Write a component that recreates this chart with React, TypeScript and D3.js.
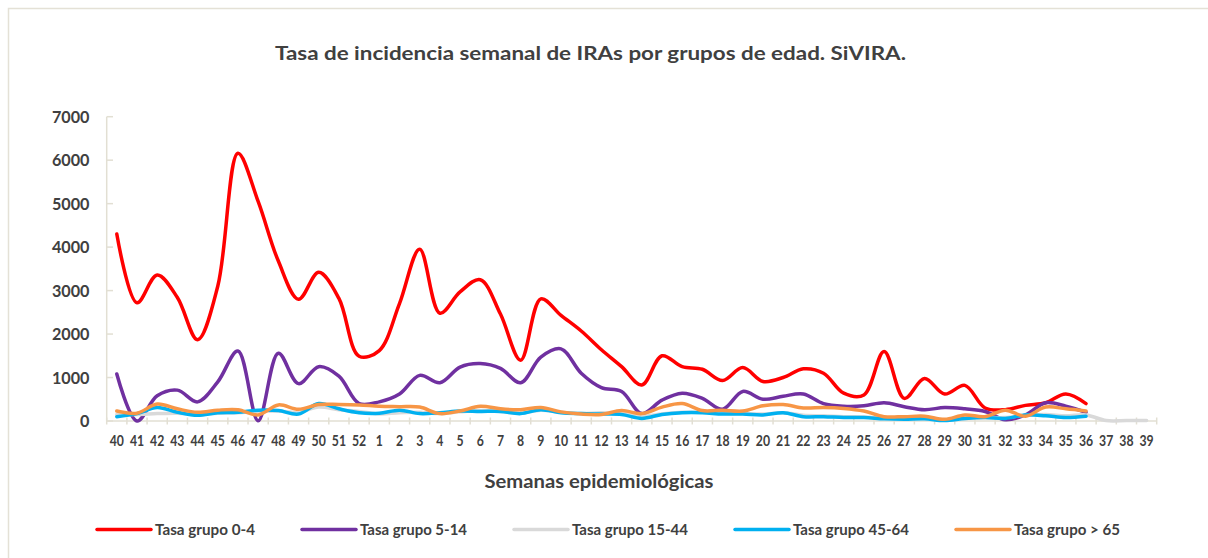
import React from "react";
import * as d3 from "d3";

const width = 1208;
const height = 558;

const weeks = [
  "40", "41", "42", "43", "44", "45", "46", "47", "48", "49", "50", "51", "52",
  "1", "2", "3", "4", "5", "6", "7", "8", "9", "10", "11", "12", "13", "14",
  "15", "16", "17", "18", "19", "20", "21", "22", "23", "24", "25", "26", "27",
  "28", "29", "30", "31", "32", "33", "34", "35", "36", "37", "38", "39"
];

const yTicks = [0, 1000, 2000, 3000, 4000, 5000, 6000, 7000];

// tasas por 100.000 hab.
const tasa0a4 = [
  4300, 2720, 3360, 2840, 1870, 3100, 6160, 5050, 3680, 2800, 3420, 2820, 1490,
  1620, 2700, 3950, 2480, 2970, 3250, 2460, 1400, 2810, 2430, 2070, 1640, 1250, 830,
  1500, 1250, 1190, 930, 1230, 910, 1000, 1200, 1100, 640, 600, 1600, 520,
  980, 620, 820, 300, 260, 360, 420, 620, 400, null, null, null
];
const tasa5a14 = [
  1080, 0, 580, 710, 440, 900, 1610, 5, 1560, 860, 1250, 1030, 400,
  440, 620, 1050, 880, 1240, 1320, 1210, 880, 1470, 1660, 1100, 770, 680, 170,
  480, 640, 520, 270, 680, 500, 570, 620, 400, 340, 350, 420, 330,
  260, 310, 280, 220, 30, 140, 420, 340, 200, null, null, null
];
const tasa15a44 = [
  150, 150, 170, 180, 160, 180, 190, 220, 230, 200, 320, 260, 220,
  160, 190, 200, 170, 210, 240, 220, 180, 250, 200, 170, 190, 160, 110,
  160, 200, 200, 180, 170, 160, 190, 130, 120, 100, 90, 70, 60,
  60, 30, 60, 80, 80, 130, 150, 120, 140, 10, 10, 10
];
const tasa45a64 = [
  100, 170, 310, 200, 130, 190, 200, 250, 240, 160, 400, 280, 190,
  180, 250, 170, 190, 230, 220, 220, 170, 260, 190, 170, 160, 150, 60,
  150, 190, 190, 160, 160, 140, 190, 100, 100, 80, 80, 50, 40,
  50, 10, 60, 80, 60, 140, 120, 80, 110, null, null, null
];
const tasa65 = [
  230, 180, 390, 280, 200, 250, 260, 140, 370, 270, 380, 380, 370,
  340, 330, 320, 170, 230, 340, 280, 260, 310, 210, 160, 150, 240, 170,
  320, 400, 240, 250, 230, 350, 380, 300, 310, 290, 230, 100, 100,
  110, 40, 140, 100, 250, 110, 320, 280, 230, null, null, null
];

const seriesNames = [
  "Tasa grupo 0-4",
  "Tasa grupo 5-14",
  "Tasa grupo 15-44",
  "Tasa grupo 45-64",
  "Tasa grupo > 65"
];
const seriesValues = [tasa0a4, tasa5a14, tasa15a44, tasa45a64, tasa65];
const colors = ["#ff0000", "#7030a0", "#d9d9d9", "#00b0f0", "#f79646"];
// ancho de cada texto de leyenda
const legendTextW = [100, 107, 116, 116, 106];

const font = "Lato, 'Open Sans', sans-serif";
const textColor = "#404040";
const axisColor = "#e2dfd3";

export default function App() {
  const x = d3.scaleBand<string>().domain(weeks).range([106.7, 1156.7]);
  const cx = (w: string) => (x(w) as number) + x.bandwidth() / 2;
  const y = d3.scaleLinear().domain([0, 7000]).range([421, 116.7]);

  const line = d3
    .line<number | null>()
    .defined(d => d != null)
    .x((_, i) => cx(weeks[i]))
    .y(d => y(d as number))
    .curve(d3.curveCatmullRom.alpha(0.5));

  // posiciones de leyenda
  let lx = 97;
  const legend = seriesNames.map((name, i) => {
    const item = { name, color: colors[i], x: lx, w: legendTextW[i] };
    lx += 54 + 4 + legendTextW[i] + 47;
    return item;
  });

  const boundaries = weeks.map(w => x(w) as number).concat([x.range()[1]]);

  return (
    <div style={{ position: "absolute", left: 0, top: 0 }}>
      <svg width={width} height={height} style={{ display: "block", background: "#fff" }}>
        <rect x={8.5} y={8.5} width={1210} height={560} fill="#fff" stroke="#e4e1d6" strokeWidth={1.5} />

        <text
          x={590.5}
          y={60}
          textAnchor="middle"
          fontFamily={font}
          fontWeight="bold"
          fontSize={19.5}
          fill={textColor}
          textLength={631}
          lengthAdjust="spacingAndGlyphs"
        >
          Tasa de incidencia semanal de IRAs por grupos de edad. SiVIRA.
        </text>

        {/* eje Y */}
        <line x1={106.7} x2={106.7} y1={y(7000)} y2={y(0)} stroke={axisColor} strokeWidth={1.5} />
        {yTicks.map(t => (
          <g key={t}>
            <line x1={106.7} x2={113} y1={y(t)} y2={y(t)} stroke={axisColor} strokeWidth={1.5} />
            <text
              x={89.5}
              y={y(t) + 6.3}
              textAnchor="end"
              fontFamily={font}
              fontWeight="bold"
              fontSize={17.5}
              fill={textColor}
              textLength={String(t).length * 9.4}
              lengthAdjust="spacingAndGlyphs"
            >
              {t}
            </text>
          </g>
        ))}

        {/* eje X */}
        <line x1={x.range()[0]} x2={x.range()[1]} y1={y(0)} y2={y(0)} stroke={axisColor} strokeWidth={1.5} />
        {boundaries.map((b, i) => (
          <line key={i} x1={b} x2={b} y1={y(0) - 3.5} y2={y(0) + 3.5} stroke={axisColor} strokeWidth={1.5} />
        ))}
        {weeks.map(w => (
          <text
            key={w}
            x={cx(w)}
            y={446}
            textAnchor="middle"
            fontFamily={font}
            fontWeight="bold"
            fontSize={14.5}
            fill={textColor}
            textLength={w.length * 7.1}
            lengthAdjust="spacingAndGlyphs"
          >
            {w}
          </text>
        ))}

        {seriesValues.map((vals, i) => (
          <path
            key={i}
            d={line(vals) || ""}
            fill="none"
            stroke={colors[i]}
            strokeWidth={3.5}
            strokeLinejoin="round"
            strokeLinecap="round"
          />
        ))}

        <text
          x={599}
          y={488}
          textAnchor="middle"
          fontFamily={font}
          fontWeight="bold"
          fontSize={19.5}
          fill={textColor}
          textLength={229}
          lengthAdjust="spacingAndGlyphs"
        >
          Semanas epidemiológicas
        </text>

        {legend.map(l => (
          <g key={l.name}>
            <line x1={l.x} x2={l.x + 54} y1={529.5} y2={529.5} stroke={l.color} strokeWidth={3.5} strokeLinecap="round" />
            <text
              x={l.x + 58}
              y={535.3}
              fontFamily={font}
              fontWeight="bold"
              fontSize={16}
              fill={textColor}
              textLength={l.w}
              lengthAdjust="spacingAndGlyphs"
            >
              {l.name}
            </text>
          </g>
        ))}
      </svg>
    </div>
  );
}
